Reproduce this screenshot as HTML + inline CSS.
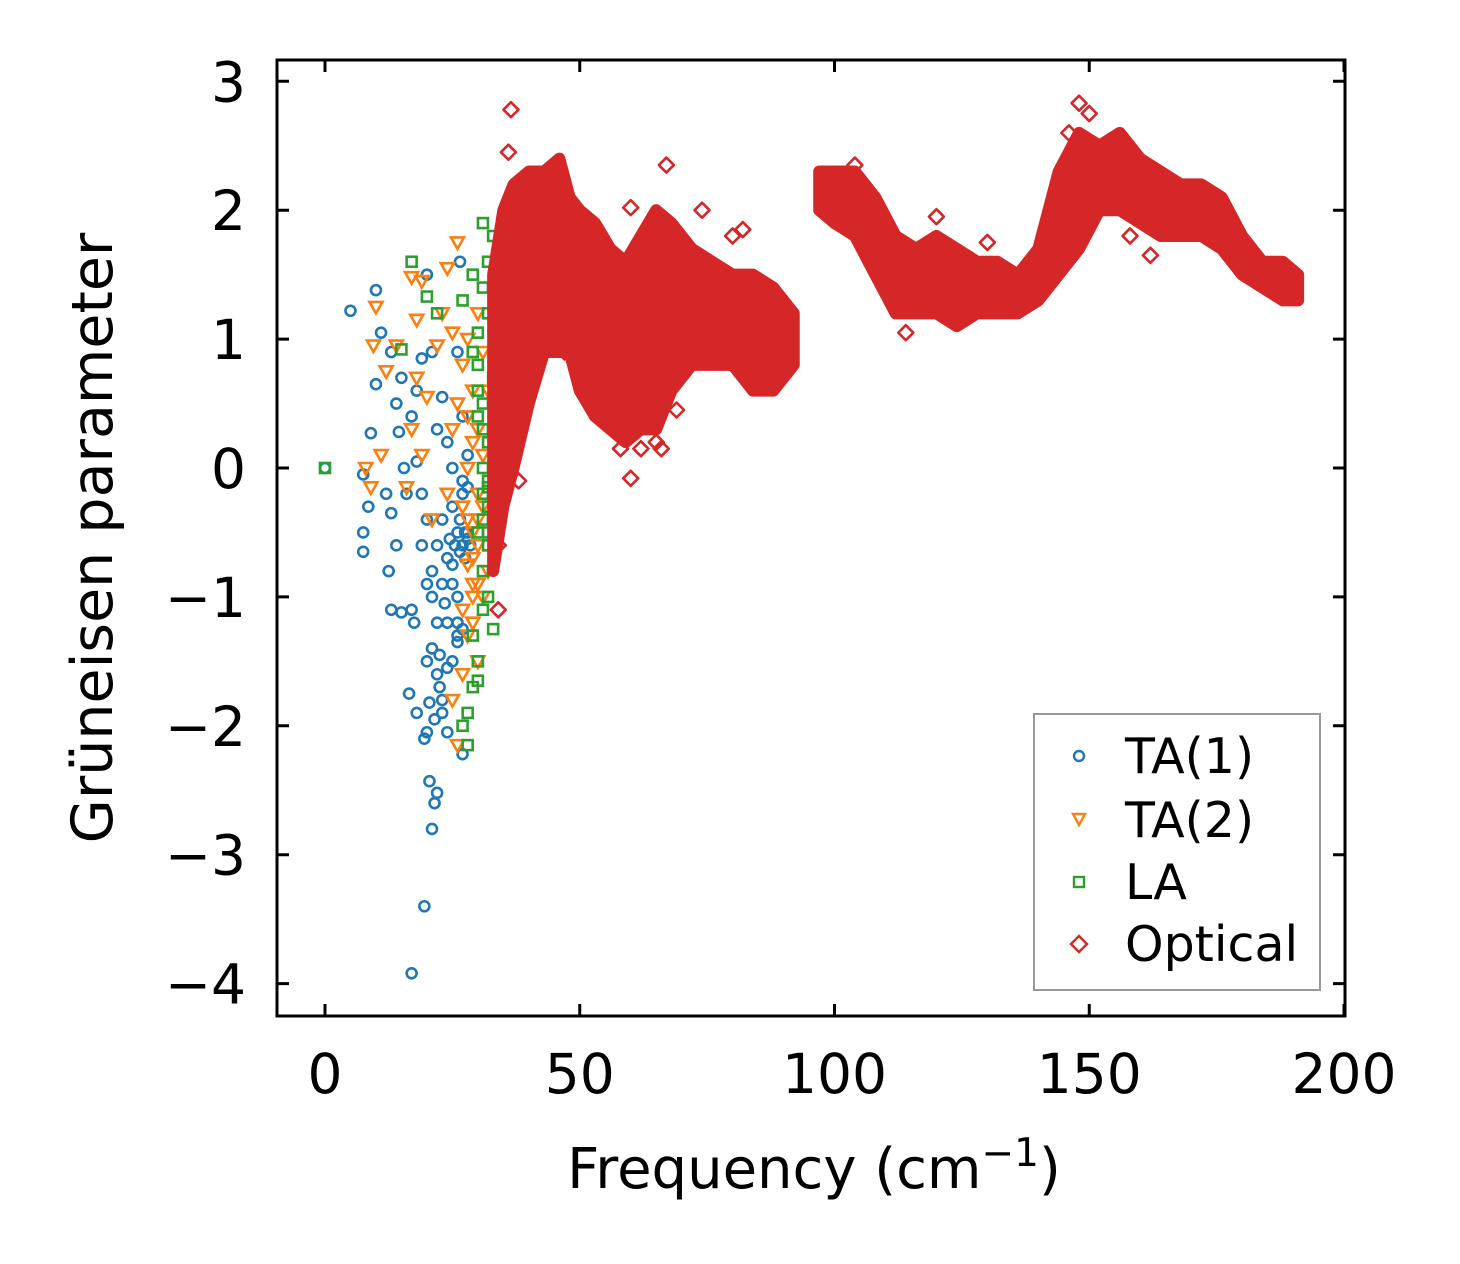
<!DOCTYPE html>
<html><head><meta charset="utf-8"><style>
html,body{margin:0;padding:0;background:#fff;}
svg{display:block;font-family:"DejaVu Sans","Liberation Sans",sans-serif;}
</style></head><body>
<svg id="chart" width="1460" height="1264" viewBox="0 0 1460 1264">
<g id="marks"></g>
<rect x="277" y="60" width="1068" height="956" fill="none" stroke="#000" stroke-width="3"/>
<g id="axes"></g>
<text x="814" y="1188" font-size="56" text-anchor="middle">Frequency (cm<tspan dy="-22" font-size="39">−1</tspan><tspan dy="22">)</tspan></text>
<text transform="translate(112,538) rotate(-90)" font-size="57" text-anchor="middle">Grüneisen parameter</text>
<g>
<rect x="1034" y="714" width="286" height="276" fill="#fff" stroke="#999" stroke-width="2"/>
<g><circle cx="1079" cy="756" r="5" fill="none" stroke="#1f77b4" stroke-width="2.4"/><text x="1125" y="773" font-size="49">TA(1)</text></g>
<g><path d="M1073,814 L1085,814 L1079,825 Z" fill="none" stroke="#ff7f0e" stroke-width="2.4"/><text x="1125" y="837" font-size="49">TA(2)</text></g>
<g><rect x="1074" y="877" width="10" height="10" fill="none" stroke="#2ca02c" stroke-width="2.4"/><text x="1125" y="899" font-size="49">LA</text></g>
<g><path d="M1079,936 L1087,944 L1079,952 L1071,944 Z" fill="none" stroke="#d62728" stroke-width="2.4"/><text x="1125" y="961" font-size="49">Optical</text></g>
</g>
</svg>
<script>
const xTicks=[0,50,100,150,200];
const yTicks=[3,2,1,0,-1,-2,-3,-4];
const ta1X=[0,5,10,11,10,9,7.5,8.5,7.5,7.5,12,13,12.5,13,14,15,13,14,14.5,15,15.5,16,16.5,17,17.5,18,17,19.5,20.5,21,21.5,22,20,19.5,21,20,20.5,22,23,24,25,26,27,26,24,23,22,21,20,19,18,17,18,19,20,21,22,23,24,25,26,27,28,26.5,26,27,28,27,25,23,24,25,26,22,21,28,27.5,26.5,19,20,24.5,25.5,26.5,27.5,28.5,23.5,22.5,26,27,25,24,23,21.5,22.5,27,28];
const ta1Y=[0,1.22,1.38,1.05,0.65,0.27,-0.05,-0.3,-0.5,-0.65,-0.2,-0.35,-0.8,-1.1,-0.6,-1.12,0.9,0.5,0.28,0.7,0,-0.2,-1.75,-1.1,-1.2,-1.9,-3.92,-3.4,-2.43,-2.8,-2.6,-2.52,-2.05,-2.1,-1.4,-1.5,-1.82,-1.6,-1.9,-2.05,-1.5,-1.3,-2.22,-1.0,-1.2,-0.9,-0.6,-0.8,-0.4,-0.2,0.05,0.4,0.6,0.85,1.5,0.9,0.3,0.55,0.2,-0.3,-0.5,-0.6,-0.55,1.6,0.9,0.4,0.1,-0.1,0,-0.4,-0.7,-0.9,-1.2,-1.2,-1.0,-0.5,-0.7,-0.4,-0.6,-0.9,-0.55,-0.6,-0.65,-0.5,-0.6,-1.05,-1.45,-1.35,-1.25,-0.75,-1.55,-1.8,-1.95,-1.7,-0.2,-0.15];
const ta2X=[8,9,9.5,10,11,12,14,16,17,17,18,18,19,19,20,21,22,23,24,25,26,27,28,29,30,30,29,28,27,26,25,27,28,29,30,31,31,31,30,29,28,26,25,24,27,29,30,32,32,28,29,30,31,29,30,28];
const ta2Y=[0,-0.15,0.95,1.25,0.1,0.75,0.95,-0.15,1.48,0.3,1.15,0.7,1.45,0.1,0.55,-0.4,0.95,1.2,1.55,1.05,1.75,0.8,0.4,0.2,-0.2,-0.6,-0.9,-1.3,-1.6,-2.15,-1.8,-1.1,-0.4,0.6,1.2,0.9,-0.3,-1.0,-1.5,-1.0,0,0.5,0.3,-0.2,-0.3,-0.5,0.3,0.6,-0.8,1.0,-0.7,-0.4,0.1,-1.2,-0.9,-0.75];
const laX=[0,15,17,20,22,27,29,30,31,32,33,30,31,32,31,32,31,32,33,30,29,28,27,28,30,31,32,31,30,29,32,33,30,29,32,31,31,32,30,31,32];
const laY=[0,0.92,1.6,1.33,1.2,1.3,1.5,1.05,1.9,1.6,1.8,0.8,0.5,0.2,-0.2,-0.5,-0.8,-1.0,-1.25,-1.5,-1.7,-1.9,-2.0,-2.15,-1.65,-1.1,-0.3,0,0.4,0.9,1.2,0.7,-0.5,-1.3,-0.1,0.3,-0.4,-0.15,0.6,1.4,-0.6];
// Optical band envelope (two branches) + outliers
const optAx=[33,35,37,40,43,46,48,50,53,56,59,62,65,68,72,76,80,84,88,92];
const optAlo=[-0.8,-0.3,0.0,0.5,0.9,0.9,0.9,0.6,0.4,0.3,0.2,0.3,0.3,0.6,0.8,0.8,0.8,0.6,0.6,0.8];
const optAhi=[1.5,2.0,2.2,2.3,2.3,2.4,2.1,2.0,1.9,1.7,1.6,1.8,2.0,1.9,1.7,1.6,1.5,1.5,1.4,1.2];
const optBx=[97,100,104,108,112,116,120,124,128,132,136,140,144,148,152,156,160,164,168,172,176,180,184,188,191];
const optBlo=[2.0,1.9,1.8,1.5,1.2,1.2,1.2,1.1,1.2,1.2,1.2,1.3,1.5,1.7,2.0,2.0,1.9,1.8,1.8,1.8,1.7,1.5,1.4,1.3,1.3];
const optBhi=[2.3,2.3,2.3,2.1,1.8,1.7,1.8,1.7,1.6,1.6,1.5,1.7,2.3,2.6,2.5,2.6,2.4,2.3,2.2,2.2,2.1,1.8,1.6,1.6,1.5];
const optOutX=[36.5,36,60,67,148,60,58,44,65,80,52,56,104,120,150,162,34,34,66,55,62,69,74,82,47,40,38,90,114,130,146,158,170,186];
const optOutY=[2.78,2.45,-0.08,2.35,2.83,2.02,0.15,2.3,0.2,1.8,0.5,0.4,2.35,1.95,2.75,1.65,-1.1,-0.6,0.15,0.35,0.15,0.45,2.0,1.85,0.9,0.7,-0.1,1.0,1.05,1.75,2.6,1.8,2.15,1.4];

const NS='http://www.w3.org/2000/svg';
const sx=v=>325+v*5.095;
const sy=v=>468-v*128.9;
const marks=document.getElementById('marks');
const axes=document.getElementById('axes');
function mk(tag,attrs,parent){const e=document.createElementNS(NS,tag);for(const k in attrs)e.setAttribute(k,attrs[k]);parent.appendChild(e);return e;}

xTicks.forEach(t=>{const x=sx(t);
 let l=mk('path',{d:`M${x},1016 v-12 M${x},60 v12`,stroke:'#000','stroke-width':3},axes);
 
 
 let tx=mk('text',{x:x,y:1093,'font-size':55,'text-anchor':'middle'},axes);tx.textContent=t;
 
 });
yTicks.forEach(t=>{const y=sy(t);
 let l=mk('path',{d:`M277,${y} h12 M1345,${y} h-12`,stroke:'#000','stroke-width':3},axes);
 
 
 let tx=mk('text',{x:246,y:y+20,'font-size':55,'text-anchor':'end'},axes);tx.textContent=t<0?'−'+(-t):t;
 
 });

const g1=mk('g',{fill:'none',stroke:'#1f77b4','stroke-width':2.6},marks);


ta1X.forEach((v,i)=>{const c=mk('circle',{cx:sx(v),cy:sy(ta1Y[i]),r:5},g1);
 
 });
const g2=mk('g',{fill:'none',stroke:'#ff7f0e','stroke-width':2.6},marks);


ta2X.forEach((v,i)=>{const x=sx(v),y=sy(ta2Y[i]);const p=mk('path',{d:`M${x-6.5},${y-5} L${x+6.5},${y-5} L${x},${y+6.5} Z`},g2);
 
 });
const g3=mk('g',{fill:'none',stroke:'#2ca02c','stroke-width':2.6},marks);


laX.forEach((v,i)=>{const r=mk('rect',{x:sx(v)-5,y:sy(laY[i])-5,width:10,height:10},g3);
 
 });
const g4=mk('g',{fill:'#d62728',stroke:'#d62728','stroke-width':12,'stroke-linejoin':'round'},marks);


function band(xs,lo,hi,name){
 let pts=xs.map((x,i)=>`${sx(x)},${sy(hi[i])}`);
 for(let i=xs.length-1;i>=0;i--)pts.push(`${sx(xs[i])},${sy(lo[i])}`);
 const p=mk('polygon',{points:pts.join(' ')},g4);
 
 
}
band(optAx,optAlo,optAhi,'optical-band-low');
band(optBx,optBlo,optBhi,'optical-band-high');
optOutX.forEach((v,i)=>{const x=sx(v),y=sy(optOutY[i]);
 const p=mk('path',{d:`M${x},${y-7.5} L${x+7.5},${y} L${x},${y+7.5} L${x-7.5},${y} Z`,fill:'none','stroke-width':2.6},g4);
 
 });
</script>
</body></html>
